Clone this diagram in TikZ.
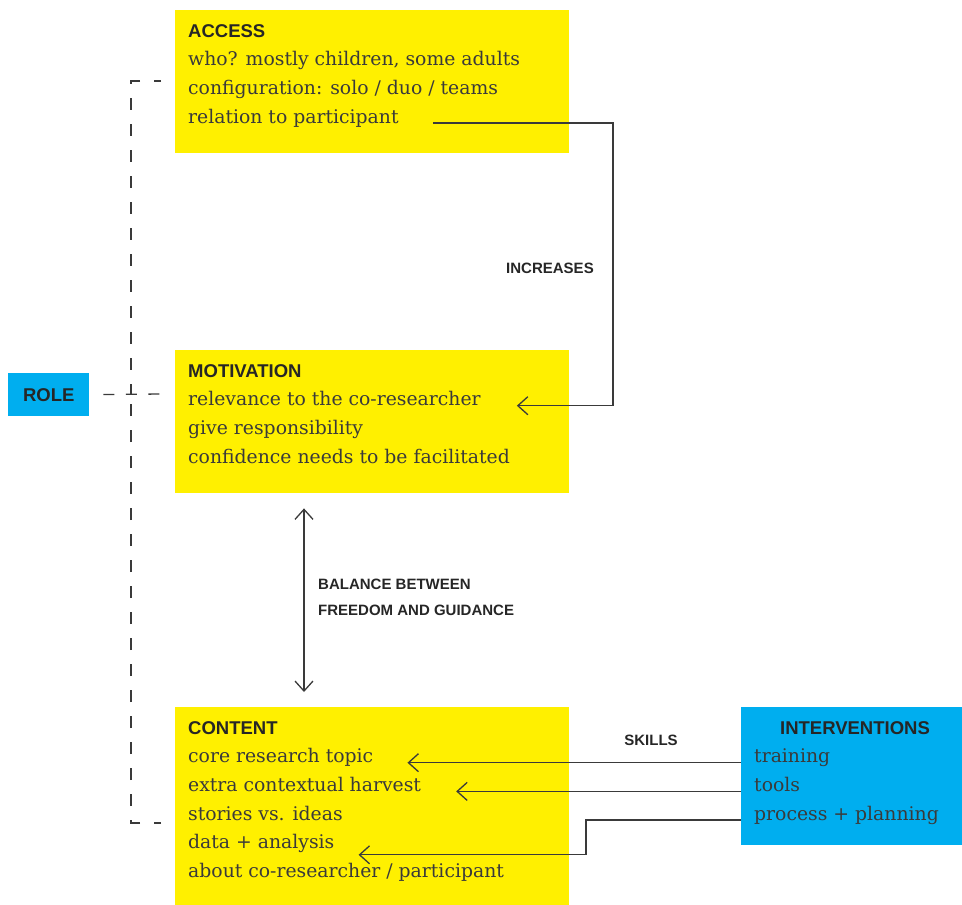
\documentclass[tikz,border=0pt]{standalone}
\usepackage{fontspec}
\setmainfont{DejaVu Serif}
\newfontfamily\headfont{Liberation Sans}
\usetikzlibrary{arrows.meta,positioning}

\definecolor{boxyellow}{HTML}{FFF000}
\definecolor{boxblue}{HTML}{00AEEF}
\definecolor{ink}{HTML}{3A3A3A}
\definecolor{headink}{HTML}{262626}

\tikzset{
  >={Straight Barb[length=10pt,width=18pt]},
  ybox/.style={fill=boxyellow, anchor=north west, inner sep=0pt, minimum width=394pt},
  bbox/.style={fill=boxblue, anchor=north west, inner sep=0pt},
  head/.style={font=\headfont\bfseries\fontsize{18.5}{22}\selectfont, text=headink, anchor=base west, inner sep=0pt},
  body/.style={font=\fontsize{18.8}{22}\selectfont, text=ink, anchor=base west, inner sep=0pt},
  tag/.style={font=\headfont\bfseries\fontsize{15}{26}\selectfont, text=headink, inner sep=0pt},
  link/.style={draw=ink, line width=1.3pt},
  bracket/.style={draw=ink, line width=1.3pt, dash pattern=on 12pt off 14pt, dash phase=5pt},
}

\begin{document}
\begin{tikzpicture}[x=1pt,y=-1pt]
  \useasboundingbox (0,0) rectangle (962,905);

  % boxes
  \node[ybox, minimum height=143pt] (access) at (175,10) {};
  \node[ybox, minimum height=143pt] (motiv) at (175,350) {};
  \node[ybox, minimum height=198pt] (content) at (175,707) {};
  \node[bbox, minimum width=221pt, minimum height=138pt] (interv) at (741,707) {};
  \node[bbox, minimum width=81pt, minimum height=43pt, font=\headfont\bfseries\fontsize{18.5}{22}\selectfont, text=headink] (role) at (8,373) {ROLE};

  % box texts
  \node[head] (access-0) at (188,37) {ACCESS};
  \foreach \txt [count=\i] in {{who? mostly children, some adults}, {configuration: solo / duo / teams}, {relation to participant}}
    \node[body] (access-\i) at (188,{37+28.7*\i}) {\txt};

  \node[head] (motiv-0) at (188,377) {MOTIVATION};
  \foreach \txt [count=\i] in {{relevance to the co-researcher}, {give responsibility}, {confidence needs to be facilitated}}
    \node[body] (motiv-\i) at (188,{377+28.7*\i}) {\txt};

  \node[head] (content-0) at (188,734) {CONTENT};
  \foreach \txt [count=\i] in {{core research topic}, {extra contextual harvest}, {stories vs. ideas}, {data + analysis}, {about co-researcher / participant}}
    \node[body] (content-\i) at (188,{734+28.7*\i}) {\txt};

  \node[head, anchor=base] (iv-0) at (855,734) {INTERVENTIONS};
  \foreach \txt [count=\i] in {{training}, {tools}, {process + planning}}
    \node[body] (iv-\i) at (754,{734+28.7*\i}) {\txt};

  % role bracket
  \coordinate (brtop) at (161,81);
  \coordinate (brmid) at (161,394);
  \coordinate (brbot) at (161,823);
  \draw[bracket] (brtop) -- (131,81) -- (131,394);
  \draw[bracket] (brbot) -- (131,823) -- (131,394);
  \draw[link, dash pattern=on 11pt off 11.5pt, shorten <=14pt] (role.east) -- (brmid);

  % increases
  \coordinate (rail) at (613,0);
  \coordinate (a-out) at ([xshift=34pt]access-3.base east);
  \coordinate (m-in) at ([xshift=36pt]motiv-1.base east);
  \draw[link,->] (a-out) -- (a-out -| rail) |- (m-in);
  \node[tag] (incr) at (550,268) {INCREASES};

  % balance
  \coordinate (bal) at (304,0);
  \draw[link,<->, shorten <=15pt, shorten >=15pt] (motiv.south -| bal) -- (content.north -| bal);
  \node[tag, align=left, anchor=west] (balance) at (318,597) {BALANCE BETWEEN\\FREEDOM AND GUIDANCE};

  % skills
  \node[tag] (skills) at (651,740) {SKILLS};
  \draw[link,->] (interv.west |- iv-1.base) -- ([xshift=34pt]content-1.base east);
  \draw[link,->] (interv.west |- iv-2.base) -- ([xshift=35pt]content-2.base east);
  \coordinate (p-out) at (interv.west |- iv-3.base);
  \draw[link,->] (p-out) -- ++(-155,0) |- ([xshift=24pt,yshift=-6pt]content-4.base east);
\end{tikzpicture}
\end{document}
